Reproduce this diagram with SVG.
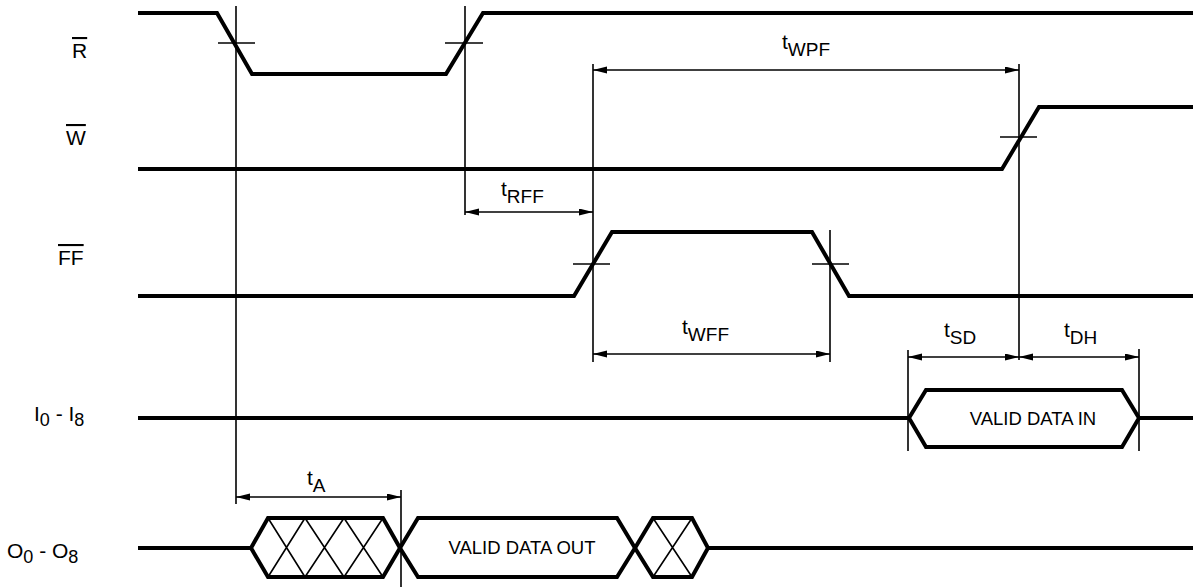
<svg xmlns="http://www.w3.org/2000/svg" width="1193" height="587" viewBox="0 0 1193 587">
<style>
.sig{fill:none;stroke:#000;stroke-width:4;stroke-linejoin:miter}
.thin{fill:none;stroke:#000;stroke-width:1.6}
.dim{fill:none;stroke:#000;stroke-width:1.6;marker-start:url(#arr);marker-end:url(#arr)}
.lbl{font-family:"Liberation Sans",Arial,sans-serif;font-size:21px;fill:#000}
.tl{font-family:"Liberation Sans",Arial,sans-serif;font-size:21px;fill:#000}
.sub{font-size:19px}
.lsub{font-size:18px}
.in{font-family:"Liberation Sans",Arial,sans-serif;font-size:18.5px;fill:#000;text-anchor:middle}
.ov{text-decoration:overline}
</style>
<defs>
<marker id="arr" markerUnits="userSpaceOnUse" markerWidth="15" markerHeight="8" refX="14" refY="3.5" orient="auto-start-reverse">
<path d="M0,0 L14,3.5 L0,7 Z" fill="#000"/>
</marker>
</defs>
<rect width="1193" height="587" fill="#fff"/>

<g id="label-R"><text class="lbl ov" x="72" y="58">R</text></g>
<g id="label-W"><text class="lbl ov" x="66" y="145">W</text></g>
<g id="label-FF"><text class="lbl ov" x="58" y="265">FF</text></g>
<g id="label-I"><text class="lbl" x="34" y="421">I<tspan class="lsub" dy="5">0</tspan><tspan dy="-5"> - I</tspan><tspan class="lsub" dy="5">8</tspan></text></g>
<g id="label-O"><text class="lbl" x="7" y="558">O<tspan class="lsub" dy="5">0</tspan><tspan dy="-5"> - O</tspan><tspan class="lsub" dy="5">8</tspan></text></g>

<g id="signal-R">
<path class="sig" d="M138,13 H217 L252,74 H446 L483,13 H1193"/>
<line class="thin" x1="218" y1="43" x2="255" y2="43"/>
<line class="thin" x1="445" y1="43" x2="483" y2="43"/>
</g>
<g id="signal-W">
<path class="sig" d="M138,169 H1002 L1039,107 H1193"/>
<line class="thin" x1="1000" y1="137" x2="1037" y2="137"/>
</g>
<g id="signal-FF">
<path class="sig" d="M138,296 H574 L612,232 H812 L849,296 H1193"/>
<line class="thin" x1="573" y1="264" x2="610" y2="264"/>
<line class="thin" x1="812" y1="264" x2="849" y2="264"/>
</g>
<g id="signal-I">
<path class="sig" d="M138,418 H909 M1139,418 H1193"/>
<path class="sig" d="M909,418 L926,390 H1122 L1139,418 L1122,447 H926 Z"/>
<text class="in" x="1033" y="425">VALID DATA IN</text>
</g>
<g id="signal-O">
<path class="sig" d="M138,548 H251 M708,548 H1193"/>
<path class="sig" d="M251,548 L268,518 H383 L400,548 L383,577 H268 Z"/>
<path class="thin" d="M268,518 L305,577 M268,577 L305,518 M305,518 L344,577 M305,577 L344,518 M344,518 L383,577 M344,577 L383,518"/>
<path class="sig" d="M400,548 L418,518 H617 L635,548 L617,577 H418 Z"/>
<text class="in" x="522" y="554">VALID DATA OUT</text>
<path class="sig" d="M635,548 L653,518 H692 L708,548 L692,577 H653 Z"/>
<path class="thin" d="M653,518 L692,577 M653,577 L692,518"/>
</g>

<g id="connectors">
<line class="thin" x1="236" y1="6" x2="236" y2="504"/>
<line class="thin" x1="465" y1="6" x2="465" y2="215"/>
<line class="thin" x1="593" y1="64" x2="593" y2="362"/>
<line class="thin" x1="1019" y1="64" x2="1019" y2="360"/>
<line class="thin" x1="830" y1="230" x2="830" y2="362"/>
<line class="thin" x1="908" y1="350" x2="908" y2="451"/>
<line class="thin" x1="1139" y1="349" x2="1139" y2="451"/>
<line class="thin" x1="401" y1="490" x2="401" y2="587"/>
<line class="dim" x1="593" y1="70" x2="1019" y2="70"/>
<line class="dim" x1="465" y1="212" x2="593" y2="212"/>
<line class="dim" x1="593" y1="354" x2="830" y2="354"/>
<line class="dim" x1="908" y1="357" x2="1019" y2="357"/>
<line class="dim" x1="1019" y1="357" x2="1139" y2="357"/>
<line class="dim" x1="236" y1="497" x2="401" y2="497"/>
</g>

<g id="timing-labels">
<text class="tl" x="782" y="49">t<tspan class="sub" dy="7">WPF</tspan></text>
<text class="tl" x="501" y="196">t<tspan class="sub" dy="7">RFF</tspan></text>
<text class="tl" x="682" y="334">t<tspan class="sub" dy="7">WFF</tspan></text>
<text class="tl" x="944" y="337">t<tspan class="sub" dy="7">SD</tspan></text>
<text class="tl" x="1064" y="337">t<tspan class="sub" dy="7">DH</tspan></text>
<text class="tl" x="307" y="485">t<tspan class="sub" dy="7">A</tspan></text>
</g>
</svg>
